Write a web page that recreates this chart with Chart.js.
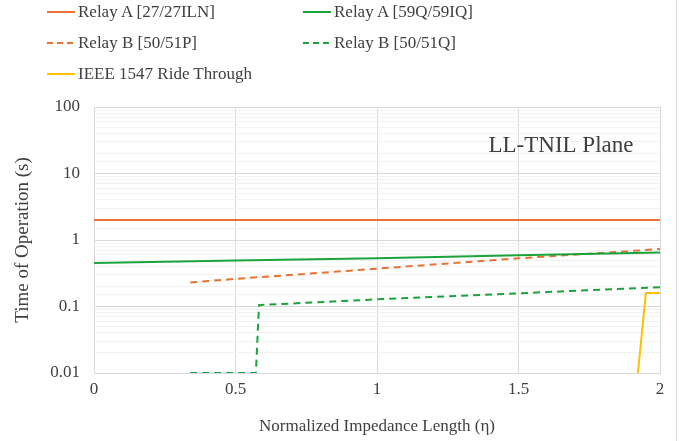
<!DOCTYPE html>
<html>
<head>
<meta charset="utf-8">
<script src="https://cdn.jsdelivr.net/npm/chart.js@4"></script>
<style>
    body { margin: 0; background: #fff; }
    #wrap { position: relative; width: 676px; height: 441px; border-right: 1px solid #d9d9d9; }
    #legend { position: absolute; left: 47px; top: 0; font-family: "Liberation Serif", serif; font-size: 17px; color: #404040; }
    .item { position: absolute; white-space: nowrap; display: flex; align-items: center; }
    .item svg { margin-right: 3px; }
</style>
</head>
<body>
<div id="wrap">
    <canvas id="relayChart" width="676" height="441"></canvas>
    <div id="legend"></div>
</div>
<script>
// series values
const relayA27X = [0, 2];
const relayA27Y = [2, 2];
const relayA59X = [0, 0.5, 1, 1.5, 2];
const relayA59Y = [0.45, 0.49, 0.53, 0.59, 0.65];
const relayB51PX = [0.34, 0.5, 1, 1.5, 2];
const relayB51PY = [0.23, 0.26, 0.37, 0.53, 0.73];
const relayB51QX = [0.34, 0.572, 0.583, 1, 1.5, 2];
const relayB51QY = [0.01, 0.01, 0.105, 0.128, 0.158, 0.195];
const ieeeX = [1.922, 1.95, 2];
const ieeeY = [0.01, 0.16, 0.16];
const xTicks = [0, 0.5, 1, 1.5, 2];
const yMajor = [0.01, 0.1, 1, 10, 100];

const orange = '#E97132';
const green = '#1AA33C';
const yellow = '#FFC000';
const serif = '"Liberation Serif", "Times New Roman", serif';

function pts(xs, ys) {
    return xs.map(function (x, i) { return { x: x, y: ys[i] }; });
}
function isMajor(v) {
    return yMajor.some(function (m) { return Math.abs(v - m) / m < 1e-6; });
}

const datasets = [
    { label: 'Relay A [27/27ILN]', data: pts(relayA27X, relayA27Y), borderColor: orange, dash: [] },
    { label: 'Relay A [59Q/59IQ]', data: pts(relayA59X, relayA59Y), borderColor: green, dash: [] },
    { label: 'Relay B [50/51P]', data: pts(relayB51PX, relayB51PY), borderColor: orange, dash: [7, 5] },
    { label: 'Relay B [50/51Q]', data: pts(relayB51QX, relayB51QY), borderColor: green, dash: [7, 5] },
    { label: 'IEEE 1547 Ride Through', data: pts(ieeeX, ieeeY), borderColor: yellow, dash: [] }
].map(function (d) {
    d.borderDash = d.dash;
    d.borderWidth = 2;
    d.pointRadius = 0;
    d.tension = 0;
    d.fill = false;
    return d;
});

const planeLabel = {
    id: 'planeLabel',
    afterDatasetsDraw: function (chart) {
        var ctx = chart.ctx;
        var x = chart.scales.x.getPixelForValue(1.65);
        var y = chart.scales.y.getPixelForValue(26);
        ctx.save();
        ctx.font = '23px ' + serif;
        ctx.fillStyle = '#404040';
        ctx.textAlign = 'center';
        ctx.textBaseline = 'middle';
        ctx.fillText('LL-TNIL Plane', x, y);
        ctx.restore();
    }
};

const chart = new Chart(document.getElementById('relayChart'), {
    type: 'line',
    data: { datasets: datasets },
    options: {
        responsive: false,
        animation: false,
        layout: { padding: { top: 107, right: 16, left: 0, bottom: 0 } },
        plugins: { legend: { display: false }, tooltip: { enabled: false } },
        scales: {
            x: {
                type: 'linear',
                min: 0,
                max: 2,
                afterBuildTicks: function (scale) {
                    scale.ticks = xTicks.map(function (v) { return { value: v }; });
                },
                ticks: {
                    font: { family: serif, size: 17 },
                    color: '#404040',
                    padding: 6,
                    callback: function (v) { return String(v); }
                },
                grid: { color: '#d9d9d9', drawTicks: false },
                border: { color: '#d9d9d9' },
                title: { display: true, text: 'Normalized Impedance Length (η)', font: { family: serif, size: 17 }, color: '#404040', padding: { top: 0 } },
                afterFit: function (scale) { scale.height = 68; }
            },
            y: {
                type: 'logarithmic',
                min: 0.01,
                max: 100,
                ticks: {
                    autoSkip: false,
                    font: { family: serif, size: 17 },
                    color: '#404040',
                    padding: 14,
                    callback: function (v) { return isMajor(v) ? String(v) : ''; }
                },
                grid: {
                    drawTicks: false,
                    color: function (c) { return c.tick && isMajor(c.tick.value) ? '#d9d9d9' : '#f2f2f2'; }
                },
                border: { color: '#d9d9d9' },
                title: { display: true, text: 'Time of Operation (s)', font: { family: serif, size: 19 }, color: '#404040', padding: { top: 12, bottom: 0 } },
                afterFit: function (scale) { scale.width = 94; }
            }
        }
    },
    plugins: [planeLabel]
});

// legend in two columns like the original
var legend = document.getElementById('legend');
var slots = [[0, 0], [256, 0], [0, 31], [256, 31], [0, 62]];
chart.data.datasets.forEach(function (d, i) {
    var item = document.createElement('div');
    item.className = 'item';
    item.style.left = slots[i][0] + 'px';
    item.style.top = slots[i][1] + 'px';
    var dash = d.borderDash.length ? ' stroke-dasharray="6 4"' : '';
    item.innerHTML = '<svg width="28" height="24"><line x1="0" y1="12" x2="28" y2="12" stroke="' + d.borderColor + '" stroke-width="2"' + dash + '/></svg>' + d.label;
    legend.appendChild(item);
});
</script>
</body>
</html>
